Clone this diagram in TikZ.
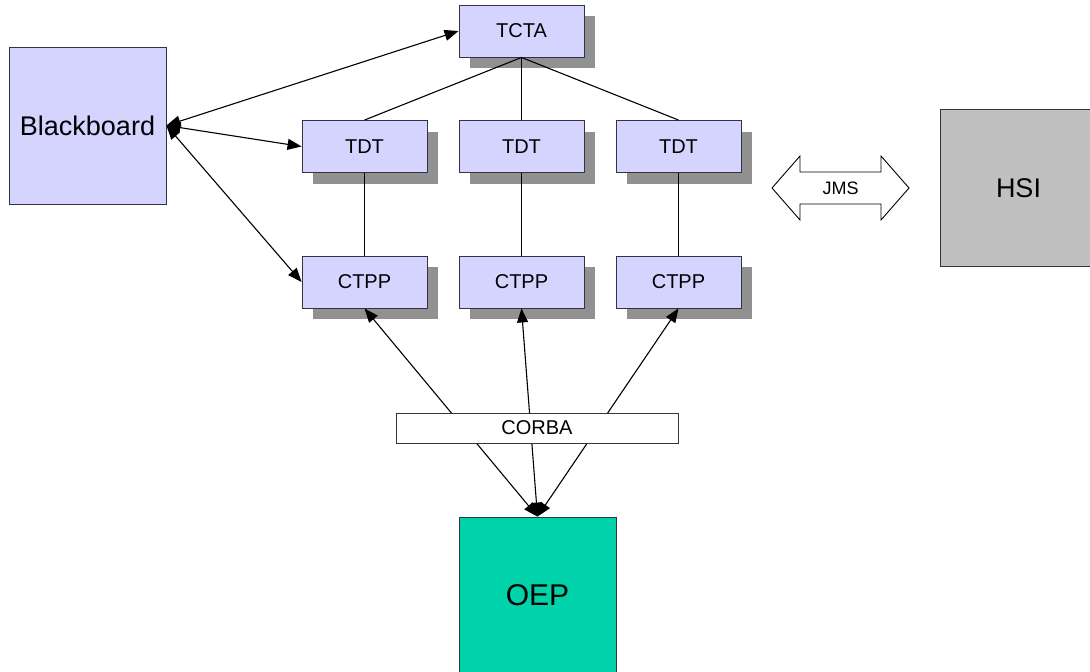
\documentclass[tikz,border=0pt]{standalone}
\usepackage{fontspec}
\setmainfont{Liberation Sans}
\usetikzlibrary{arrows.meta,shadows}

\definecolor{boxfill}{RGB}{212,212,255}
\definecolor{shadowgray}{RGB}{145,145,145}
\definecolor{oepgreen}{RGB}{0,210,170}
\definecolor{hsigray}{RGB}{192,192,192}
\definecolor{edgegray}{RGB}{51,51,68}

\tikzset{
  module/.style={draw=edgegray, line width=0.9pt, fill=boxfill,
    minimum width=125pt, minimum height=52pt, inner sep=0pt,
    font=\fontsize{20}{24}\selectfont,
    drop shadow={shadow xshift=10.5pt, shadow yshift=-11pt,
                 fill=shadowgray, opacity=1}},
  bigbox/.style={draw=edgegray, line width=0.9pt,
    minimum width=157pt, minimum height=157pt, inner sep=0pt,
    font=\fontsize{27}{32}\selectfont},
  busbox/.style={draw=edgegray, line width=0.9pt, fill=white,
    minimum width=282pt, minimum height=30pt, inner sep=0pt,
    font=\fontsize{20}{24}\selectfont},
  link/.style={line width=1.1pt, black},
  biarrow/.style={link,
    {Triangle[length=14pt,width=11pt]}-{Triangle[length=14pt,width=11pt]}},
}

\begin{document}
\begin{tikzpicture}[x=1pt,y=-1pt]
\useasboundingbox (0,0) rectangle (1090,672);

% large component boxes
\node[bigbox, fill=boxfill] (bb) at (87.5,125.5) {Blackboard};
\node[bigbox, fill=hsigray] (hsi) at (1018.5,188) {HSI};
\node[bigbox, fill=oepgreen, font=\fontsize{30}{36}\selectfont] (oep) at (537.5,595.5) {OEP};

% agent modules
\node[module] (tcta) at (521.5,31) {TCTA};
\node[module] (tdt1) at (364.5,146.5) {TDT};
\node[module] (tdt2) at (521.5,146.5) {TDT};
\node[module] (tdt3) at (678.5,146.5) {TDT};
\node[module] (ctpp1) at (364.5,282) {CTPP};
\node[module] (ctpp2) at (521.5,282) {CTPP};
\node[module] (ctpp3) at (678.5,282) {CTPP};

% hierarchy links
\draw[link] (tcta.south) -- (tdt1.north);
\draw[link] (tcta.south) -- (tdt2.north);
\draw[link] (tcta.south) -- (tdt3.north);
\draw[link] (tdt1.south) -- (ctpp1.north);
\draw[link] (tdt2.south) -- (ctpp2.north);
\draw[link] (tdt3.south) -- (ctpp3.north);

% blackboard exchanges
\draw[biarrow] (bb.east) -- (tcta.west);
\draw[biarrow] (bb.east) -- (tdt1.west);
\draw[biarrow] (bb.east) -- (ctpp1.west);

% OEP exchanges through the CORBA bus
\draw[biarrow] (oep.north) -- (ctpp1.south);
\draw[biarrow] (oep.north) -- (ctpp2.south);
\draw[biarrow] (oep.north) -- (ctpp3.south);
\node[busbox] (corba) at (537,428) {CORBA};

% JMS double arrow
\draw[draw=black, fill=white, line width=0.9pt]
  (772,188) -- (800,156) -- (800,172) -- (881,172) -- (881,156) -- (909,188)
  -- (881,220) -- (881,204) -- (800,204) -- (800,220) -- cycle;
\node[font=\fontsize{18}{22}\selectfont] (jms) at (840.5,188) {JMS};
\end{tikzpicture}
\end{document}
